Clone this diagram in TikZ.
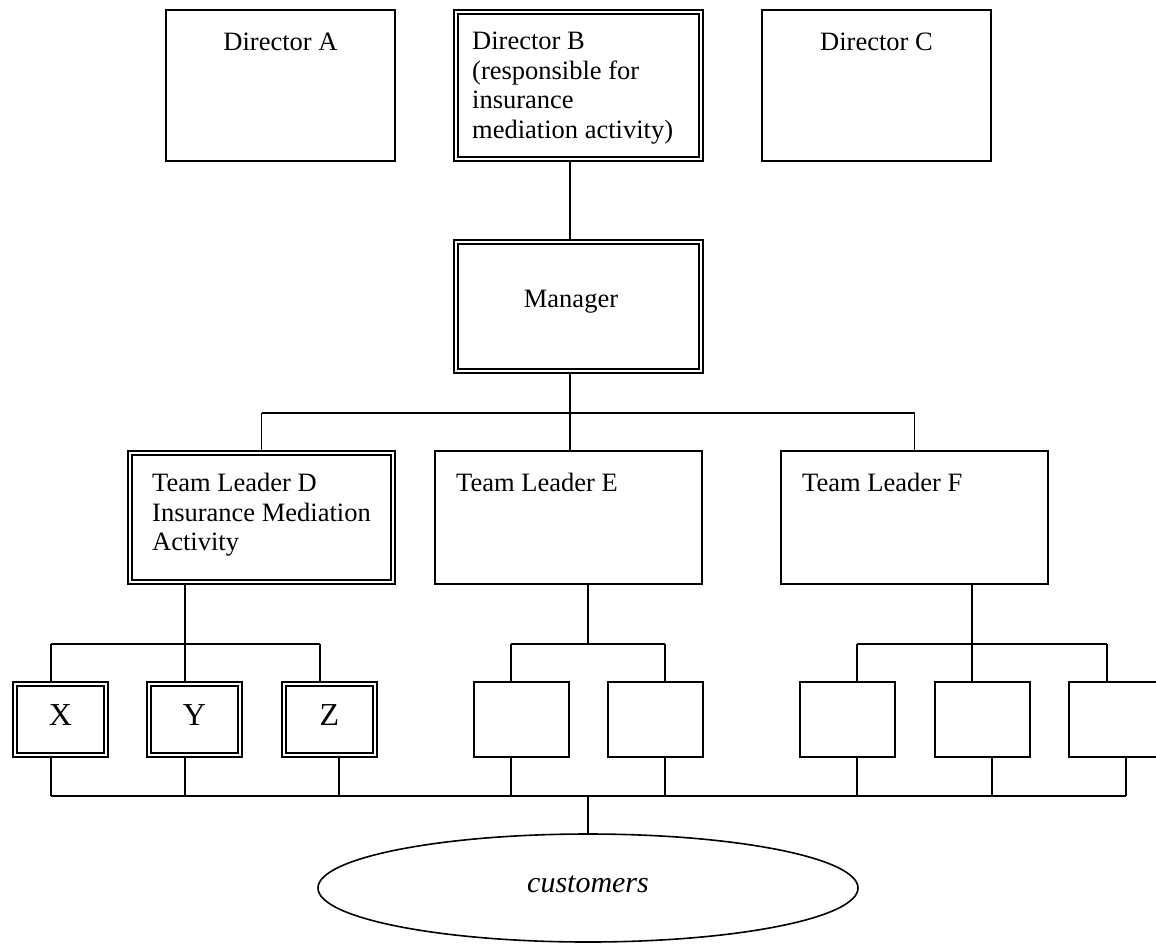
\documentclass[tikz,border=0pt]{standalone}
\usepackage{fontspec}
\setmainfont{Liberation Serif}
\usetikzlibrary{shapes.geometric}
\begin{document}
\begin{tikzpicture}[x=1pt,y=-1pt,
  box/.style={draw, line width=2pt, outer sep=1pt, inner sep=0pt},
  dbox/.style={draw, line width=1.8pt, double, double distance=2.2pt, outer sep=2.9pt, inner sep=0pt},
  staff/.style={dbox, font=\fontsize{32}{36}\selectfont, text depth=8pt, minimum width=91.2pt, minimum height=71.2pt},
  sbox/.style={box, minimum width=95pt, minimum height=75pt},
  conn/.style={line width=1.6pt},
  txt/.style={font=\fontsize{26.5}{29.5}\selectfont, inner sep=0pt},
  lbl/.style={txt, align=left, anchor=north west}]
\useasboundingbox (0,0) rectangle (1156,948);
% directors
\node[box, minimum width=229pt, minimum height=151pt] (A) at (280.5,85.5) {};
\node[dbox, minimum width=245.2pt, minimum height=147.2pt] (B) at (578.5,85.5) {};
\node[box, minimum width=229pt, minimum height=151pt] (C) at (876.5,85.5) {};
\node[txt, anchor=base] (At) at (280.5,50) {Director A};
\node[lbl] (Bt) at (472,32) {Director B\\(responsible for\\insurance\\mediation activity)};
\node[txt, anchor=base] (Ct) at (876.5,50) {Director C};
% manager
\node[dbox, minimum width=245.2pt, minimum height=129.2pt] (M) at (578.5,306.5) {};
\node[txt, anchor=base] (Mt) at (571,307) {Manager};
% team leaders
\node[dbox, minimum width=263.2pt, minimum height=129.2pt] (D) at (261.5,517.5) {};
\node[box, minimum width=267pt, minimum height=133pt] (E) at (568.5,517.5) {};
\node[box, minimum width=267pt, minimum height=133pt] (F) at (914.5,517.5) {};
\node[lbl] (Dt) at (152,473) {Team Leader D\\Insurance Mediation\\Activity};
\node[lbl] (Et) at (456,473) {Team Leader E};
\node[lbl] (Ft) at (802,473) {Team Leader F};
% staff
\node[staff] (X) at (60.5,719.5) {X};
\node[staff] (Y) at (194.5,719.5) {Y};
\node[staff] (Z) at (329.5,719.5) {Z};
\node[sbox] (E1) at (521.5,719.5) {};
\node[sbox] (E2) at (655.5,719.5) {};
\node[sbox] (F1) at (847.5,719.5) {};
\node[sbox] (F2) at (982.5,719.5) {};
\node[sbox] (F3) at (1116.5,719.5) {};
% customers
\node[draw, ellipse, line width=1.6pt, minimum width=540pt, minimum height=108pt, inner sep=0pt, font=\fontsize{30}{34}\selectfont\itshape, text depth=7pt] (cust) at (588,888) {customers};
% coordinates of buses
\coordinate (bus1) at (570,413);
\coordinate (xt) at (51,644);
\coordinate (yt) at (185,644);
\coordinate (zt) at (320,644);
\coordinate (ebus) at (588,644);
\coordinate (e1t) at (511,644);
\coordinate (e2t) at (665,644);
\coordinate (f1t) at (857,644);
\coordinate (f2t) at (972,644);
\coordinate (f3t) at (1107,644);
\coordinate (xb) at (51,796);
\coordinate (yb) at (185,796);
\coordinate (zb) at (339,796);
\coordinate (e1b) at (511,796);
\coordinate (e2b) at (665,796);
\coordinate (f1b) at (857,796);
\coordinate (f2b) at (992,796);
\coordinate (f3b) at (1126,796);
\coordinate (cb) at (588,796);
% connectors
\draw[conn] (B.south -| bus1) -- (M.north -| bus1);
\draw[conn] (M.south -| bus1) -- (bus1);
\draw[conn] (D.north |- bus1) -- (F.north |- bus1);
\draw[conn] (D.north |- bus1) -- (D.north);
\draw[conn] (bus1) -- (E.north -| bus1);
\draw[conn] (F.north |- bus1) -- (F.north);
% D group
\draw[conn] (D.south -| yt) -- (yt);
\draw[conn] (xt) -- (zt);
\draw[conn] (xt) -- (X.north -| xt);
\draw[conn] (yt) -- (Y.north -| yt);
\draw[conn] (zt) -- (Z.north -| zt);
% E group
\draw[conn] (E.south -| ebus) -- (ebus);
\draw[conn] (e1t) -- (e2t);
\draw[conn] (e1t) -- (E1.north -| e1t);
\draw[conn] (e2t) -- (E2.north -| e2t);
% F group
\draw[conn] (F.south -| f2t) -- (f2t);
\draw[conn] (f1t) -- (f3t);
\draw[conn] (f1t) -- (F1.north -| f1t);
\draw[conn] (f2t) -- (F2.north -| f2t);
\draw[conn] (f3t) -- (F3.north -| f3t);
% bottom bus
\draw[conn] (xb) -- (f3b);
\draw[conn] (X.south -| xb) -- (xb);
\draw[conn] (Y.south -| yb) -- (yb);
\draw[conn] (Z.south -| zb) -- (zb);
\draw[conn] (E1.south -| e1b) -- (e1b);
\draw[conn] (E2.south -| e2b) -- (e2b);
\draw[conn] (F1.south -| f1b) -- (f1b);
\draw[conn] (F2.south -| f2b) -- (f2b);
\draw[conn] (F3.south -| f3b) -- (f3b);
\draw[conn] (cb) -- (cust.north);
\end{tikzpicture}
\end{document}
